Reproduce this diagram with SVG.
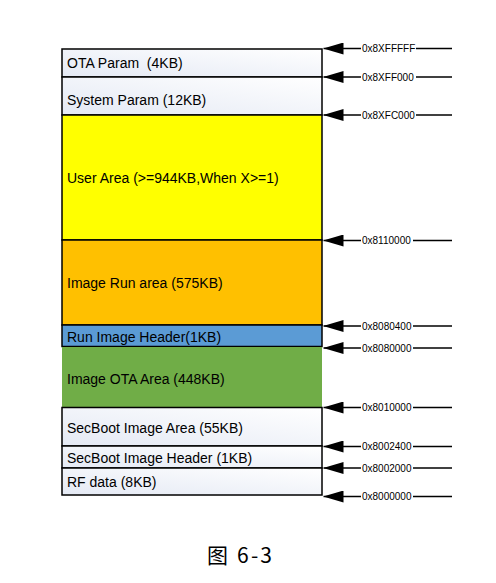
<svg xmlns="http://www.w3.org/2000/svg" width="496" height="583" viewBox="0 0 496 583">
<style>
.box{stroke:#000;stroke-width:1.5}
.lbl{font-family:"Liberation Sans",Arial,sans-serif;font-size:14px;fill:#000;white-space:pre}
.addr{font-family:"Liberation Sans",Arial,sans-serif;font-size:10px;fill:#000}
.ln{stroke:#000;stroke-width:1.4;fill:none}
.title{font-family:"Noto Sans CJK SC","Liberation Sans",sans-serif;font-size:21px;fill:#000}
</style>
<defs>
<linearGradient id="wg" x1="0" y1="1" x2="1" y2="0">
<stop offset="0" stop-color="#e4e9f4"/>
<stop offset="1" stop-color="#ffffff"/>
</linearGradient>
<marker id="ah" markerUnits="userSpaceOnUse" markerWidth="20" markerHeight="12" viewBox="0 0 20 12" refX="20" refY="6" orient="auto">
<path d="M0,0 L20,6 L0,12 z" fill="#000"/>
</marker>
</defs>
<rect width="496" height="583" fill="#fff"/>
<g id="ota-param"><rect class="box" x="62" y="49" width="260" height="28" fill="url(#wg)"/><text class="lbl" x="67" y="68.3" xml:space="preserve">OTA Param  (4KB)</text></g>
<g id="system-param"><rect class="box" x="62" y="77" width="260" height="38" fill="url(#wg)"/><text class="lbl" x="67" y="105">System Param (12KB)</text></g>
<g id="user-area"><rect class="box" x="62" y="115" width="260" height="125" fill="#ffff00"/><text class="lbl" x="67" y="182.7">User Area (&gt;=944KB,When X&gt;=1)</text></g>
<g id="image-run"><rect class="box" x="62" y="240" width="260" height="85" fill="#ffc000"/><text class="lbl" x="67" y="288.3">Image Run area (575KB)</text></g>
<g id="run-header"><rect class="box" x="62" y="325" width="260" height="21.5" fill="#5b9bd5"/><text class="lbl" x="67" y="341.7">Run Image Header(1KB)</text></g>
<g id="image-ota"><rect x="62" y="347" width="260" height="60.5" fill="#70ad47"/><text class="lbl" x="67" y="384">Image OTA Area (448KB)</text></g>
<g id="secboot-area"><rect class="box" x="62" y="407.5" width="260" height="38.5" fill="url(#wg)"/><text class="lbl" x="67" y="432.7">SecBoot Image Area (55KB)</text></g>
<g id="secboot-header"><rect class="box" x="62" y="446" width="260" height="22" fill="url(#wg)"/><text class="lbl" x="67" y="463.3">SecBoot Image Header (1KB)</text></g>
<g id="rf-data"><rect class="box" x="62" y="468" width="260" height="27" fill="url(#wg)"/><text class="lbl" x="67" y="487.3">RF data (8KB)</text></g>
<g id="connectors">
<path class="ln" d="M361,48.5 H323.5" marker-end="url(#ah)"/><path class="ln" d="M416,48.5 H452"/><text class="addr" x="362" y="52">0x8XFFFFF</text>
<path class="ln" d="M361,77 H323.5" marker-end="url(#ah)"/><path class="ln" d="M416,77 H452"/><text class="addr" x="362" y="80.5">0x8XFF000</text>
<path class="ln" d="M361,115 H323.5" marker-end="url(#ah)"/><path class="ln" d="M416,115 H452"/><text class="addr" x="362" y="118.5">0x8XFC000</text>
<path class="ln" d="M361,240.5 H323.5" marker-end="url(#ah)"/><path class="ln" d="M413,240.5 H452"/><text class="addr" x="362" y="244">0x8110000</text>
<path class="ln" d="M361,326 H323.5" marker-end="url(#ah)"/><path class="ln" d="M413,326 H452"/><text class="addr" x="362" y="329.5">0x8080400</text>
<path class="ln" d="M361,348 H323.5" marker-end="url(#ah)"/><path class="ln" d="M413,348 H452"/><text class="addr" x="362" y="351.5">0x8080000</text>
<path class="ln" d="M361,407.5 H323.5" marker-end="url(#ah)"/><path class="ln" d="M413,407.5 H452"/><text class="addr" x="362" y="411">0x8010000</text>
<path class="ln" d="M361,446.5 H323.5" marker-end="url(#ah)"/><path class="ln" d="M413,446.5 H452"/><text class="addr" x="362" y="450">0x8002400</text>
<path class="ln" d="M361,468 H323.5" marker-end="url(#ah)"/><path class="ln" d="M413,468 H452"/><text class="addr" x="362" y="471.5">0x8002000</text>
<path class="ln" d="M361,496.5 H323.5" marker-end="url(#ah)"/><path class="ln" d="M413,496.5 H452"/><text class="addr" x="362" y="500">0x8000000</text>
</g>
<text class="title" x="207" y="563" textLength="65" lengthAdjust="spacing">图 6-3</text>
</svg>
